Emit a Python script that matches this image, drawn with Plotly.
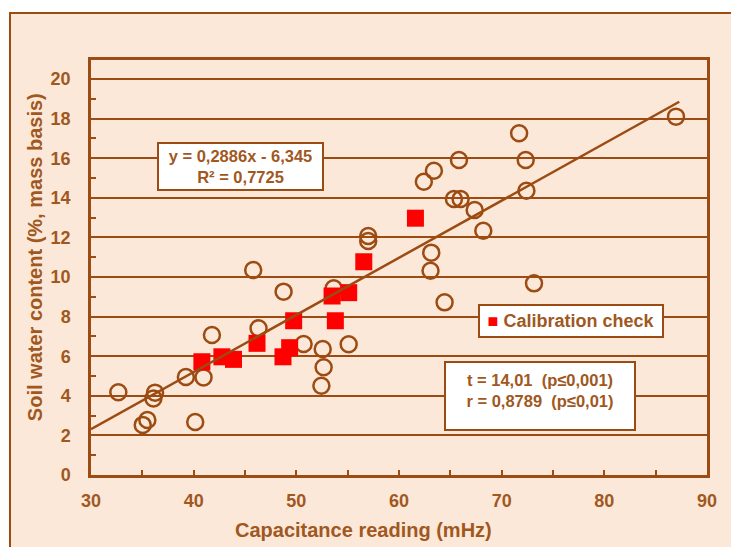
import plotly.graph_objects as go

# Field measurements (open circles)
field_x = [32.66, 35.04, 35.49, 36.08, 36.24, 39.24, 40.15, 40.96, 41.78, 45.8,
           46.32, 48.76, 50.71, 52.57, 52.66, 52.44, 53.64, 55.1, 57.0, 57.0,
           62.42, 63.4, 63.14, 63.07, 64.44, 65.35, 66.0, 65.84, 67.37, 68.21,
           71.7, 72.34, 72.41, 73.15, 86.98]
field_y = [4.18, 2.53, 2.78, 3.87, 4.16, 4.95, 2.68, 4.93, 7.07, 10.35,
           7.41, 9.26, 6.62, 6.36, 5.44, 4.51, 9.43, 6.6, 12.07, 11.82,
           14.81, 15.37, 11.23, 10.32, 8.72, 13.94, 13.94, 15.91, 13.38, 12.34,
           17.26, 15.91, 14.36, 9.68, 18.1]

# Calibration check (red squares)
calib_x = [40.8, 42.75, 43.88, 46.17, 48.7, 49.35, 49.74, 53.8, 53.48, 55.1, 56.57, 61.6]
calib_y = [5.72, 5.97, 5.84, 6.65, 5.97, 6.43, 7.79, 7.79, 9.04, 9.21, 10.77, 12.97]

# Regression line
slope, intercept = 0.2886, -6.345
fit_x = [30.0, 87.3]
fit_y = [slope * v + intercept for v in fit_x]

x_ticks = [30, 40, 50, 60, 70, 80, 90]
y_ticks = [0, 2, 4, 6, 8, 10, 12, 14, 16, 18, 20]

BROWN = "#9C4C12"
TEXT = "#A0581F"
PEACH = "#FCE8D9"
FONT = "Liberation Sans, Arial, sans-serif"

fig = go.Figure()
fig.add_trace(go.Scatter(x=field_x, y=field_y, mode="markers",
                         marker=dict(symbol="circle-open", size=16,
                                     line=dict(color=BROWN, width=2.5), color=BROWN),
                         showlegend=False))
fig.add_trace(go.Scatter(x=calib_x, y=calib_y, mode="markers",
                         marker=dict(symbol="square", size=17, color="#FF0000",
                                     line=dict(width=0)),
                         showlegend=False))
fig.add_trace(go.Scatter(x=fit_x, y=fit_y, mode="lines",
                         line=dict(color=BROWN, width=2.5), showlegend=False))

fig.update_layout(
    width=731, height=547,
    margin=dict(l=91, r=24, t=60, b=72),
    paper_bgcolor="white", plot_bgcolor="white",
    font=dict(family=FONT, color=TEXT, size=18),
    shapes=[dict(type="rect", xref="paper", yref="paper",
                 x0=-0.1315, x1=1.1, y0=-0.21, y1=1.1133,
                 line=dict(color=BROWN, width=2), fillcolor=PEACH, layer="below")],
)

fig.update_xaxes(range=[30, 90], tickvals=x_ticks, ticktext=[str(v) for v in x_ticks],
                 showgrid=False, zeroline=False,
                 showline=True, linecolor=BROWN, linewidth=2.5, mirror=True,
                 ticks="inside", ticklen=5, tickwidth=2, tickcolor=BROWN,
                 minor=dict(dtick=5, ticks="inside", ticklen=5, tickwidth=2, tickcolor=BROWN),
                 tickfont=dict(family=FONT, size=18, color=TEXT, weight="bold"),
                 ticklabelstandoff=8)
fig.update_yaxes(range=[0, 20.96], tickvals=y_ticks, ticktext=[str(v) for v in y_ticks],
                 showgrid=True, gridcolor=BROWN, gridwidth=2, zeroline=False,
                 showline=True, linecolor=BROWN, linewidth=2.5, mirror=True,
                 ticks="inside", ticklen=5, tickwidth=2, tickcolor=BROWN,
                 minor=dict(dtick=1, ticks="inside", ticklen=5, tickwidth=2, tickcolor=BROWN),
                 tickfont=dict(family=FONT, size=18, color=TEXT, weight="bold"),
                 ticklabelstandoff=14)

bold = lambda s: "<b>" + s + "</b>"
fig.add_annotation(text=bold("Capacitance reading (mHz)"), xref="paper", yref="paper",
                   x=0.4416, y=-0.1325, showarrow=False, xanchor="center", yanchor="middle",
                   font=dict(size=20, color=TEXT, family=FONT))
fig.add_annotation(text=bold("Soil water content (%, mass basis)"), xref="paper", yref="paper",
                   x=-0.0909, y=0.525, showarrow=False, xanchor="center", yanchor="middle",
                   textangle=-90, font=dict(size=20, color=TEXT, family=FONT))

fig.add_annotation(text=bold("y = 0,2886x - 6,345<br>R² = 0,7725"), x=44.59, y=15.58,
                   showarrow=False, xanchor="center", yanchor="middle",
                   width=161, height=43, borderpad=1, bordercolor=BROWN, borderwidth=2,
                   bgcolor="white", font=dict(size=16.5, color=TEXT, family=FONT))
fig.add_annotation(text="<span style='color:#FF0000'>■</span>" + bold(" Calibration check"),
                   x=76.73, y=7.78, showarrow=False, xanchor="center", yanchor="middle",
                   width=180, height=28, borderpad=1, bordercolor=BROWN, borderwidth=2,
                   bgcolor="white", font=dict(size=18, color=TEXT, family=FONT))
fig.add_annotation(text=bold("t = 14,01  (p≤0,001)<br>r = 0,8789  (p≤0,01)"),
                   x=73.71, y=3.99, showarrow=False, xanchor="center", yanchor="middle",
                   width=172, height=50, borderpad=8, bordercolor=BROWN, borderwidth=2,
                   valign="top", bgcolor="white", font=dict(size=16.5, color=TEXT, family=FONT))

fig.write_html("out.html")
